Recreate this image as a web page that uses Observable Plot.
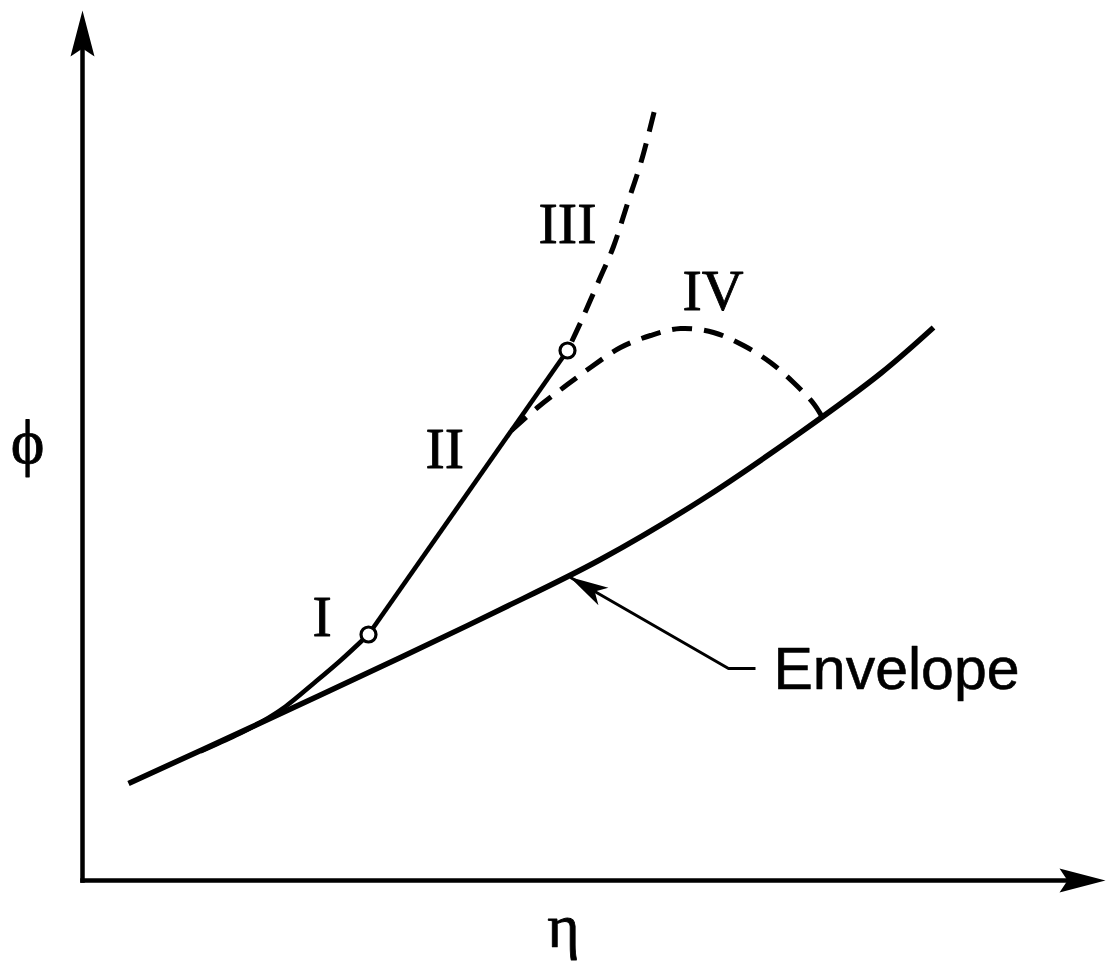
<!DOCTYPE html>
<html>
<head>
<meta charset="utf-8">
<script src="https://cdn.jsdelivr.net/npm/d3@7"></script>
<script src="https://cdn.jsdelivr.net/npm/@observablehq/plot@0.6"></script>
<style>
  html, body { margin: 0; padding: 0; background: #fff; }
  #chart svg { display: block; }
</style>
</head>
<body>
<div id="chart"></div>
<script>
// Units: η (horizontal) and φ (vertical), arbitrary, origin at the axes' corner.
const envelope = [
  [4.6, 9.7], [16.8, 15.3], [31.8, 22.3], [41.8, 27.1], [51.8, 32.1],
  [61.8, 38.0], [71.8, 44.8], [79.8, 50.7], [85.1, 55.3]
];
const curveI = [
  [11.8, 12.9], [15.3, 14.5], [17.8, 15.8], [20.3, 17.4], [23.1, 19.7],
  [25.8, 22.0], [28.6, 24.6]
];
const lineII = [[28.6, 24.6], [48.5, 53.0]];
const curveIII = [
  [48.5, 53.0], [49.9, 56.0], [51.6, 59.9], [53.1, 63.4], [54.5, 67.7],
  [55.9, 72.0], [57.3, 77.4]
];
const curveIV = [
  [42.9, 45.0], [45.5, 47.3], [48.1, 49.3], [50.8, 51.3], [53.8, 53.3],
  [56.8, 54.5], [59.8, 55.2], [63.1, 54.8], [66.1, 53.5], [68.8, 51.8],
  [71.1, 49.8], [73.1, 47.7], [74.0, 46.3]
];
const transitionPoints = [[28.6, 24.6], [48.5, 53.0]];
const pointer = [[67.3, 21.2], [64.6, 21.2], [48.8, 30.3]];
const romanLabels = [
  {text: "I", x: 23.0, y: 24.5},
  {text: "II", x: 34.3, y: 41.3},
  {text: "III", x: 45.6, y: 63.8},
  {text: "IV", x: 60.0, y: 57.1}
];
const envelopeLabel = [{text: "Envelope", x: 69.1, y: 19.2}];
const axisLabels = [
  {text: "\u03D5", x: -5.5, y: 41.8, size: 64},
  {text: "\u03B7", x: 48.1, y: -6.6, size: 62}
];
const axesLines = [
  {x1: 0, y1: 0, x2: 0, y2: 85},
  {x1: 0, y1: 0, x2: 100.3, y2: 0}
];

function headMarker(d) {
  return (color, context) => {
    const doc = (context && context.document) || document;
    const ns = "http://www.w3.org/2000/svg";
    const m = doc.createElementNS(ns, "marker");
    m.setAttribute("viewBox", "-60 -30 120 60");
    m.setAttribute("markerWidth", 120);
    m.setAttribute("markerHeight", 60);
    m.setAttribute("markerUnits", "userSpaceOnUse");
    m.setAttribute("refX", 0);
    m.setAttribute("refY", 0);
    m.setAttribute("orient", "auto");
    m.setAttribute("overflow", "visible");
    const p = doc.createElementNS(ns, "path");
    p.setAttribute("d", d);
    p.setAttribute("fill", color === "currentColor" ? "#000" : color);
    p.setAttribute("stroke", "none");
    m.appendChild(p);
    return m;
  };
}
const axisHead = headMarker("M20,0 L-26,-12 L-18,0 L-26,12 Z");
const pointerHead = headMarker("M1,0 L-38,-10 L-28,0 L-38,10 Z");

const serif = "'Liberation Serif', 'DejaVu Serif', serif";
const sans = "'Liberation Sans', Arial, sans-serif";

const chart = Plot.plot({
  width: 1106,
  height: 963,
  marginLeft: 82,
  marginRight: 0,
  marginTop: 10,
  marginBottom: 83,
  style: {background: "#fff", overflow: "visible"},
  x: {domain: [0, 102.4], axis: null},
  y: {domain: [0, 87], axis: null},
  marks: [
    Plot.link(axesLines, {x1: "x1", y1: "y1", x2: "x2", y2: "y2", stroke: "#000", strokeWidth: 4.5, strokeLinecap: "square", markerEnd: axisHead}),
    Plot.line(envelope, {x: d => d[0], y: d => d[1], curve: "catmull-rom", stroke: "#000", strokeWidth: 5.5, strokeLinecap: "butt"}),
    Plot.line(curveI, {x: d => d[0], y: d => d[1], curve: "catmull-rom", stroke: "#000", strokeWidth: 4.6, strokeLinecap: "butt"}),
    Plot.line(lineII, {x: d => d[0], y: d => d[1], stroke: "#000", strokeWidth: 4.6, strokeLinecap: "butt"}),
    Plot.line(curveIII, {x: d => d[0], y: d => d[1], curve: "catmull-rom", stroke: "#000", strokeWidth: 5, strokeDasharray: "20,12", strokeDashoffset: -10, strokeLinecap: "butt"}),
    Plot.line(curveIV, {x: d => d[0], y: d => d[1], curve: "catmull-rom", stroke: "#000", strokeWidth: 5, strokeDasharray: "20,12", strokeLinecap: "butt"}),
    Plot.line(pointer, {x: d => d[0], y: d => d[1], stroke: "#000", strokeWidth: 3, strokeLinecap: "butt", strokeLinejoin: "miter", markerEnd: pointerHead}),
    Plot.dot(transitionPoints, {x: d => d[0], y: d => d[1], r: 7.5, fill: "#fff", stroke: "#000", strokeWidth: 3.2}),
    Plot.text(romanLabels, {x: "x", y: "y", text: "text", textAnchor: "start", lineAnchor: "bottom", fontSize: 58, fontFamily: serif, fill: "#000", stroke: "#000", strokeWidth: 0.8}),
    Plot.text(envelopeLabel, {x: "x", y: "y", text: "text", textAnchor: "start", lineAnchor: "bottom", fontSize: 59, fontFamily: sans, fill: "#000", stroke: "#000", strokeWidth: 0.6}),
    Plot.text(axisLabels, {x: "x", y: "y", text: "text", fontSize: d => d.size, textAnchor: "middle", lineAnchor: "bottom", fontFamily: serif, fill: "#000", stroke: "#000", strokeWidth: 0.8})
  ]
});
document.getElementById("chart").appendChild(chart);
</script>
</body>
</html>
